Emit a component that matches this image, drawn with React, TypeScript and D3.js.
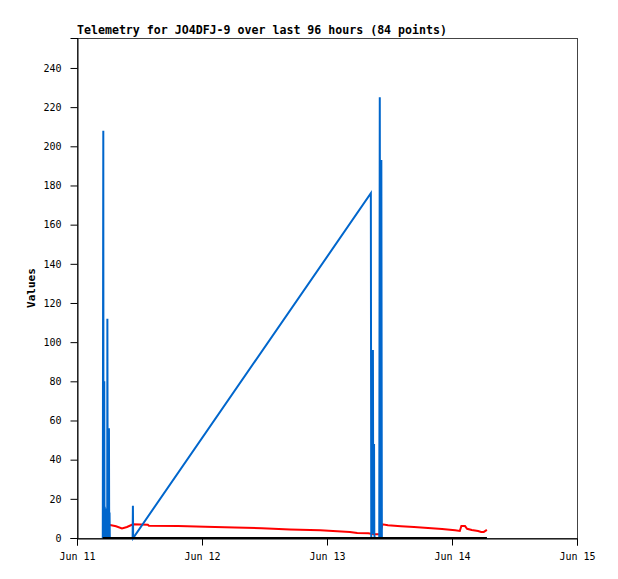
import { useEffect, useRef } from "react";
import * as d3 from "d3";

// times are "MM-DD HH:mm" (UTC)
const blueTimes = [
  "06-11 04:57", "06-11 05:03", "06-11 05:05", "06-11 05:09", "06-11 05:14", "06-11 05:17",
  "06-11 05:20", "06-11 05:24", "06-11 05:26", "06-11 05:30", "06-11 05:32", "06-11 05:36",
  "06-11 05:38", "06-11 05:42", "06-11 05:44", "06-11 05:48", "06-11 05:50", "06-11 05:54",
  "06-11 05:56", "06-11 06:00", "06-11 06:04", "06-11 06:08", "06-11 06:11", "06-11 06:15",
  "06-11 06:18", "06-11 10:41", "06-11 10:44", "06-11 10:47",
  "06-13 08:25", "06-13 08:30", "06-13 08:33", "06-13 08:37", "06-13 08:41", "06-13 08:45",
  "06-13 08:49", "06-13 08:53", "06-13 08:57", "06-13 09:02", "06-13 09:05", "06-13 09:09",
  "06-13 10:02", "06-13 10:08", "06-13 10:14", "06-13 10:20", "06-13 10:26", "06-13 10:32",
  "06-14 06:42",
];
const blueValues = [
  0, 208, 0, 14, 80, 0, 16, 3, 15, 2, 13, 0,
  14, 1, 15, 0, 112, 2, 14, 0, 12, 56, 0, 13,
  0, 0, 16.5, 0,
  176, 0, 17, 3, 16, 2, 96, 4, 17, 48, 2, 0,
  0, 225, 0, 0, 193, 0,
  0,
];

const redTimes = [
  "06-11 06:20", "06-11 07:30", "06-11 08:38", "06-11 09:36", "06-11 10:45", "06-11 13:36",
  "06-11 13:48", "06-11 19:24", "06-12 00:36", "06-12 06:18", "06-12 11:30", "06-12 16:54",
  "06-12 22:42", "06-13 04:24", "06-13 05:48", "06-13 07:54", "06-13 09:12", "06-13 10:08",
  "06-13 10:40", "06-13 11:42", "06-13 14:12", "06-13 16:42", "06-13 19:24", "06-13 22:06",
  "06-14 00:36", "06-14 01:30", "06-14 01:48", "06-14 02:30", "06-14 02:54", "06-14 03:48",
  "06-14 05:00", "06-14 05:36", "06-14 06:06", "06-14 06:42",
];
const redValues = [
  6.6, 6.0, 4.9, 5.6, 7.0, 6.8,
  6.3, 6.1, 5.8, 5.3, 5.0, 4.4,
  3.9, 3.1, 2.5, 2.4, 1.9, 1.9,
  7.0, 6.5, 6.0, 5.6, 5.1, 4.6,
  3.9, 3.6, 6.1, 6.1, 4.7, 4.1,
  3.6, 3.1, 3.1, 4.1,
];

const blackTimes = ["06-11 04:57", "06-14 06:42"];
const blackValues = [0, 0];

const dayTicks = ["06-11 00:00", "06-12 00:00", "06-13 00:00", "06-14 00:00", "06-15 00:00"];
const yTicks = [0, 20, 40, 60, 80, 100, 120, 140, 160, 180, 200, 220, 240];

const title = "Telemetry for JO4DFJ-9 over last 96 hours (84 points)";

const parse = (s: string) => d3.utcParse("%Y-%m-%d %H:%M")(`2024-${s}`) as Date;

const App = () => {
  const svgRef = useRef<SVGSVGElement>(null);

  useEffect(() => {
    document.body.style.margin = "0";
    if (!svgRef.current) return;
    const width = 618;
    const height = 579;
    const margin = { top: 38, right: 41, bottom: 41, left: 77 };
    const innerW = width - margin.left - margin.right;
    const innerH = height - margin.top - margin.bottom;
    const font = "'DejaVu Sans Mono', monospace";

    const svg = d3.select(svgRef.current);
    svg.selectAll("*").remove();

    const x = d3
      .scaleUtc()
      .domain([parse(dayTicks[0]), parse(dayTicks[dayTicks.length - 1])])
      .range([0, innerW]);
    const y = d3
      .scaleLinear()
      .domain([0, 255.3])
      .range([innerH, 0]);

    svg
      .append("rect")
      .attr("width", width)
      .attr("height", height)
      .attr("fill", "#fff");

    svg
      .append("text")
      .attr("x", margin.left)
      .attr("y", 34)
      .attr("font-family", font)
      .attr("font-weight", "bold")
      .attr("font-size", 11.6)
      .text(title);

    svg
      .append("text")
      .attr("transform", `translate(35,${margin.top + innerH / 2}) rotate(-90)`)
      .attr("text-anchor", "middle")
      .attr("font-family", font)
      .attr("font-weight", "bold")
      .attr("font-size", 11)
      .text("Values");

    const g = svg
      .append("g")
      .attr("transform", `translate(${margin.left},${margin.top})`);

    // frame
    g.append("rect")
      .attr("x", 0.5)
      .attr("y", 0.5)
      .attr("width", innerW)
      .attr("height", innerH)
      .attr("fill", "none")
      .attr("stroke", "#444");

    // y axis
    g.append("g")
      .attr("transform", "translate(0.5,0)")
      .call(d3.axisLeft(y).tickValues(yTicks).tickSize(7).tickPadding(9))
      .call((a) => a.select(".domain").attr("stroke", "#000"))
      .call((a) =>
        a
          .selectAll("text")
          .attr("font-family", font)
          .attr("font-size", 10)
          .attr("fill", "#000")
      );

    // x axis
    g.append("g")
      .attr("transform", `translate(0,${innerH + 0.5})`)
      .call(
        d3
          .axisBottom(x)
          .tickValues(dayTicks.map(parse))
          .tickFormat((d) => d3.utcFormat("%b %d")(d as Date))
          .tickSize(7)
          .tickPadding(7)
      )
      .call((a) => a.select(".domain").attr("stroke", "#000"))
      .call((a) =>
        a
          .selectAll("text")
          .attr("font-family", font)
          .attr("font-size", 10)
          .attr("fill", "#000")
      );

    const line = d3
      .line<[Date, number]>()
      .x((d) => x(d[0]))
      .y((d) => y(d[1]));

    const series = [
      { times: redTimes, values: redValues, color: "#ff0000" },
      { times: blueTimes, values: blueValues, color: "#0066cc" },
      { times: blackTimes, values: blackValues, color: "#000000" },
    ];

    series.forEach(({ times, values, color }) => {
      const pts = times.map((t, i) => [parse(t), values[i]] as [Date, number]);
      g.append("path")
        .datum(pts)
        .attr("fill", "none")
        .attr("stroke", color)
        .attr("stroke-width", 2)
        .attr("d", line);
    });
  }, []);

  return <svg ref={svgRef} width={618} height={579} style={{ display: "block" }} />;
};

export default App;
